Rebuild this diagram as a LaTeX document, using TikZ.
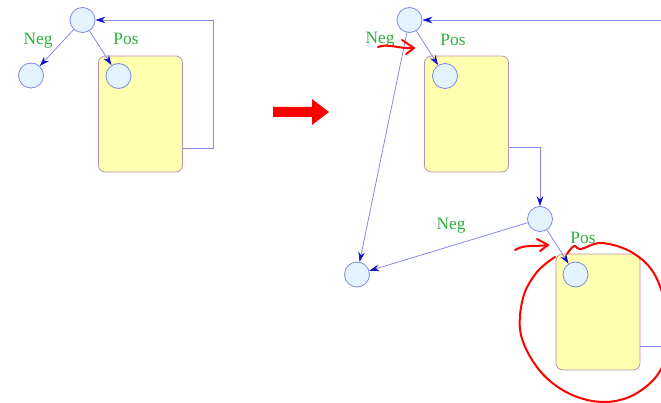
\documentclass[tikz,border=0pt]{standalone}
\usepackage{xcolor}
\usepackage{fontspec}
\setmainfont{Liberation Serif}
\usetikzlibrary{arrows.meta}

\definecolor{nodefill}{RGB}{228,244,255}
\definecolor{nodeline}{RGB}{125,135,230}
\definecolor{edgeblue}{RGB}{135,135,240}
\definecolor{tipblue}{RGB}{20,20,200}
\definecolor{boxfill}{RGB}{255,255,175}
\definecolor{boxline}{RGB}{190,140,180}
\definecolor{labgreen}{RGB}{45,175,60}

\tikzset{
  vertex/.style={circle,draw=nodeline,fill=nodefill,line width=0.6pt,minimum size=18.75pt,inner sep=0pt},
  subtree/.style={draw=boxline,fill=boxfill,rounded corners=5pt,line width=0.6pt,minimum width=63pt,minimum height=87pt,inner sep=0pt},
  edge/.style={draw=edgeblue,line width=0.6pt},
  arr/.style={edge,-{Stealth[length=7.5pt,width=5pt,color=tipblue]}},
  lab/.style={text=labgreen,font=\fontsize{13}{15}\selectfont,inner sep=0pt},
  scribble/.style={draw=red,line width=1.5pt,line cap=round,line join=round}
}

\begin{document}
\begin{tikzpicture}[x=0.75pt,y=0.75pt,yscale=-1,xscale=1]
\useasboundingbox (0,0) rectangle (661,403);

% left tree
\node [subtree] (box1) at (140.5,114) {};
\node [vertex] (t1) at (82.5,20) {};
\node [vertex] (l1) at (31,75.5) {};
\node [vertex] (p1) at (118.5,76) {};
\coordinate (c1) at (213,148);

\draw [arr] (t1) -- (l1);
\draw [arr] (t1) -- (p1);
\draw [arr] (box1.east |- c1) -- (c1) -- (c1 |- t1) -- (t1);

% Text Node
\node [lab] (neg1) at (38,41) {Neg};
\node [lab] (pos1) at (126,39) {Pos};

% big arrow
\fill [red] (273,107) -- (312,107) -- (312,99) -- (329,112) -- (312,125) -- (312,117) -- (273,117) -- cycle;

% right tree
\node [subtree] (box2) at (466.5,114) {};
\node [vertex] (t2) at (409.5,20) {};
\node [vertex] (p2) at (445,76) {};
\node [vertex] (n2) at (540,219) {};
\node [vertex] (m2) at (357,274.5) {};
\node [subtree] (box3) at (598,312) {};
\node [vertex] (p3) at (575.5,274.5) {};
\coordinate (r1) at (661,20);
\coordinate (c2) at (540,147);
\coordinate (r2) at (661,346);

\draw [arr] (r1) -- (t2);
\draw [arr] (t2) -- (p2);
\draw [arr] (t2) -- (m2);
\draw [arr] (box2.east |- c2) -- (c2) -- (n2);
\draw [arr] (n2) -- (m2);
\draw [arr] (n2) -- (p3);
\draw [edge] (box3.east |- r2) -- (r2);

% Text Node
\node [lab] (neg2) at (380,40) {Neg};
\node [lab] (pos2) at (453,40) {Pos};
\node [lab] (neg3) at (451,226) {Neg};
\node [lab] (pos3) at (583,238) {Pos};

% hand marks
\draw [scribble] (378,47) .. controls (388,43) and (398,49) .. (414,48);
\draw [scribble] (402,40) -- (414,48) -- (406,54);
\draw [scribble] (515,250) .. controls (525,244) and (535,247) .. (548,245);
\draw [scribble] (537,239) -- (548,245) -- (540,251);
\draw [scribble] plot [smooth,tension=0.6] coordinates {(567,254) (574,246) (581,249) (602,243) (633,253) (656,277) (668,322) (662,367) (637,393) (605,402) (570,394) (540,371) (521,335) (523,298) (537,272) (555,257)};

\end{tikzpicture}
\end{document}
